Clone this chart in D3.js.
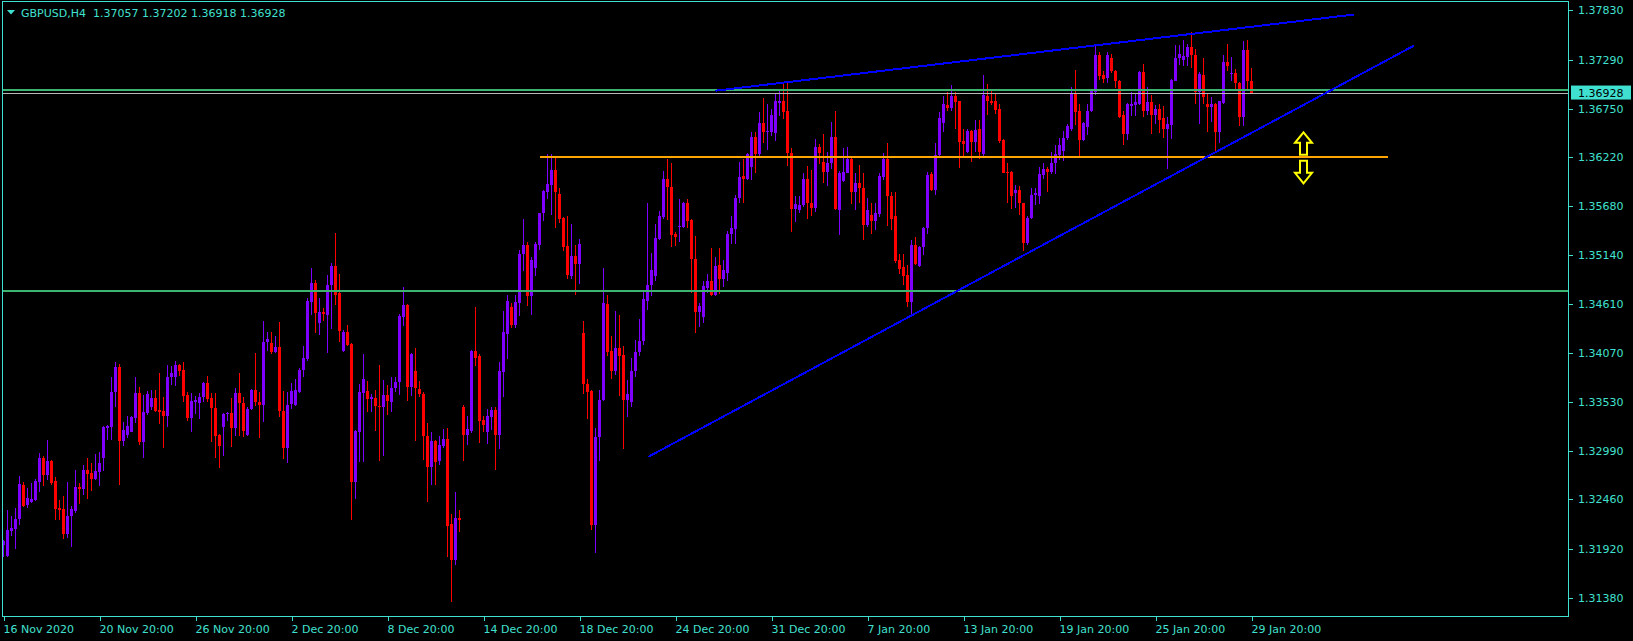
<!DOCTYPE html>
<html><head><meta charset="utf-8">
<script src="https://cdn.jsdelivr.net/npm/d3@7"></script>
<style>
html,body{margin:0;padding:0;background:#000;overflow:hidden}
svg{display:block}
text{font-family:"DejaVu Sans",sans-serif;font-size:11px}
</style></head><body>
<svg id="chart" width="1633" height="641"></svg>
<script>
// ---------- data ----------
const symbol = "GBPUSD,H4";
const lastQuote = ["1.37057", "1.37202", "1.36918", "1.36928"]; // O H L C of last bar
const bidPrice = 1.36928;

const open = [
1.3196,1.3184,1.3211,1.3214,1.3224,1.3262,1.3240,1.3243,1.3245,1.3265,
1.3291,1.3273,1.3288,1.3266,1.3237,1.3235,1.3208,1.3228,1.3233,1.3260,
1.3257,1.3278,1.3275,1.3268,1.3276,1.3292,1.3324,1.3326,1.3364,1.3391,
1.3310,1.3317,1.3320,1.3335,1.3363,1.3309,1.3341,1.3348,1.3357,1.3344,
1.3343,1.3338,1.3380,1.3380,1.3394,1.3388,1.3361,1.3335,1.3353,1.3352,
1.3358,1.3374,1.3357,1.3346,1.3317,1.3326,1.3340,1.3341,1.3325,1.3363,
1.3352,1.3317,1.3345,1.3366,1.3353,1.3350,1.3419,1.3418,1.3408,1.3413,
1.3343,1.3303,1.3351,1.3350,1.3364,1.3388,1.3400,1.3463,1.3484,1.3440,
1.3452,1.3448,1.3481,1.3502,1.3473,1.3409,1.3430,1.3417,1.3265,1.3320,
1.3363,1.3365,1.3356,1.3357,1.3349,1.3348,1.3361,1.3353,1.3368,1.3375,
1.3446,1.3460,1.3370,1.3387,1.3367,1.3362,1.3316,1.3282,1.3310,1.3288,
1.3305,1.3312,1.3219,1.3179,1.3226,1.3348,1.3317,1.3321,1.3409,1.3403,
1.3333,1.3320,1.3337,1.3344,1.3317,1.3386,1.3428,1.3457,1.3438,1.3462,
1.3516,1.3525,1.3469,1.3500,1.3525,1.3560,1.3584,1.3591,1.3608,1.3581,
1.3555,1.3524,1.3491,1.3513,1.3505,1.3429,1.3373,1.3365,1.3218,1.3315,
1.3355,1.3461,1.3409,1.3387,1.3412,1.3405,1.3355,1.3353,1.3387,1.3408,
1.3420,1.3464,1.3481,1.3491,1.3532,1.3556,1.3598,1.3589,1.3537,1.3545,
1.3545,1.3572,1.3553,1.3510,1.3452,1.3446,1.3478,1.3486,1.3471,1.3503,
1.3488,1.3495,1.3537,1.3543,1.3577,1.3601,1.3598,1.3611,1.3644,1.3625,
1.3659,1.3650,1.3649,1.3648,1.3681,1.3683,1.3672,1.3626,1.3565,1.3564,
1.3569,1.3598,1.3572,1.3566,1.3633,1.3617,1.3606,1.3615,1.3644,1.3564,
1.3596,1.3605,1.3620,1.3584,1.3594,1.3588,1.3547,1.3558,1.3552,1.3559,
1.3600,1.3620,1.3579,1.3557,1.3509,1.3501,1.3492,1.3463,1.3525,1.3502,
1.3523,1.3544,1.3603,1.3586,1.3624,1.3659,1.3679,1.3676,1.3689,1.3683,
1.3640,1.3627,1.3651,1.3639,1.3653,1.3625,1.3689,1.3683,1.3683,1.3675,
1.3641,1.3606,1.3606,1.3582,1.3586,1.3571,1.3528,1.3555,1.3580,1.3579,
1.3602,1.3609,1.3606,1.3615,1.3624,1.3629,1.3643,1.3653,1.3691,1.3673,
1.3641,1.3655,1.3672,1.3693,1.3734,1.3712,1.3709,1.3731,1.3717,1.3706,
1.3668,1.3647,1.3678,1.3679,1.3680,1.3715,1.3672,1.3682,1.3668,1.3675,
1.3665,1.3653,1.3657,1.3706,1.3731,1.3728,1.3732,1.3743,1.3734,1.3693,
1.3712,1.3680,1.3677,1.3680,1.3650,1.3681,1.3726,1.3713,1.3714,1.3703,
1.3666,1.3739,1.37057];

const high = [
1.3202,1.3234,1.3228,1.3237,1.3272,1.3265,1.3259,1.3264,1.3269,1.3297,
1.3294,1.3311,1.3289,1.3271,1.3245,1.3250,1.3265,1.3239,1.3278,1.3264,
1.3284,1.3292,1.3286,1.3296,1.3298,1.3327,1.3328,1.3381,1.3397,1.3395,
1.3331,1.3338,1.3338,1.3381,1.3369,1.3361,1.3365,1.3366,1.3366,1.3385,
1.3359,1.3394,1.3393,1.3398,1.3395,1.3397,1.3364,1.3363,1.3360,1.3363,
1.3375,1.3382,1.3363,1.3363,1.3318,1.3341,1.3342,1.3357,1.3368,1.3385,
1.3359,1.3347,1.3367,1.3407,1.3364,1.3442,1.3430,1.3430,1.3426,1.3441,
1.3365,1.3364,1.3374,1.3378,1.3390,1.3414,1.3467,1.3500,1.3487,1.3467,
1.3456,1.3493,1.3506,1.3539,1.3494,1.3432,1.3438,1.3418,1.3322,1.3373,
1.3406,1.3376,1.3362,1.3366,1.3394,1.3377,1.3372,1.3380,1.3381,1.3450,
1.3479,1.3461,1.3407,1.3412,1.3376,1.3364,1.3330,1.3320,1.3311,1.3316,
1.3323,1.3324,1.3230,1.3254,1.3234,1.3350,1.3338,1.3410,1.3457,1.3406,
1.3338,1.3345,1.3348,1.3348,1.3397,1.3453,1.3470,1.3462,1.3471,1.3520,
1.3554,1.3529,1.3512,1.3529,1.3561,1.3586,1.3625,1.3625,1.3623,1.3588,
1.3556,1.3557,1.3548,1.3525,1.3532,1.3442,1.3378,1.3366,1.3324,1.3366,
1.3500,1.3470,1.3425,1.3453,1.3449,1.3414,1.3377,1.3401,1.3421,1.3444,
1.3476,1.3571,1.3517,1.3549,1.3563,1.3607,1.3620,1.3615,1.3540,1.3576,
1.3573,1.3576,1.3554,1.3535,1.3462,1.3486,1.3494,1.3522,1.3512,1.3522,
1.3509,1.3541,1.3557,1.3580,1.3616,1.3620,1.3626,1.3649,1.3650,1.3671,
1.3687,1.3680,1.3675,1.3692,1.3697,1.3703,1.3705,1.3632,1.3579,1.3579,
1.3604,1.3612,1.3608,1.3642,1.3636,1.3647,1.3627,1.3661,1.3672,1.3607,
1.3632,1.3633,1.3623,1.3604,1.3613,1.3604,1.3577,1.3572,1.3571,1.3604,
1.3626,1.3637,1.3584,1.3584,1.3516,1.3515,1.3503,1.3531,1.3534,1.3524,
1.3545,1.3606,1.3606,1.3637,1.3671,1.3689,1.3693,1.3701,1.3693,1.3684,
1.3653,1.3653,1.3652,1.3663,1.3663,1.3712,1.3702,1.3696,1.3692,1.3680,
1.3642,1.3615,1.3607,1.3591,1.3590,1.3572,1.3557,1.3588,1.3588,1.3611,
1.3615,1.3611,1.3627,1.3635,1.3643,1.3651,1.3658,1.3699,1.3718,1.3680,
1.3661,1.3680,1.3695,1.3746,1.3737,1.3717,1.3737,1.3735,1.3718,1.3707,
1.3672,1.3681,1.3693,1.3691,1.3716,1.3724,1.3699,1.3690,1.3679,1.3680,
1.3678,1.3666,1.3708,1.3745,1.3745,1.3751,1.3746,1.3759,1.3741,1.3715,
1.3731,1.3692,1.3688,1.3681,1.3684,1.3734,1.3746,1.3732,1.3719,1.3704,
1.3749,1.3751,1.37202];

const low = [
1.3183,1.3183,1.3206,1.3192,1.3218,1.3238,1.3237,1.3242,1.3244,1.3254,
1.3261,1.3267,1.3262,1.3223,1.3223,1.3203,1.3204,1.3194,1.3231,1.3241,
1.3251,1.3247,1.3255,1.3267,1.3261,1.3277,1.3311,1.3311,1.3348,1.3262,
1.3305,1.3314,1.3320,1.3330,1.3306,1.3292,1.3339,1.3344,1.3342,1.3329,
1.3303,1.3326,1.3372,1.3371,1.3382,1.3353,1.3332,1.3320,1.3340,1.3334,
1.3353,1.3353,1.3309,1.3292,1.3281,1.3294,1.3332,1.3304,1.3316,1.3316,
1.3315,1.3316,1.3344,1.3349,1.3314,1.3331,1.3409,1.3406,1.3407,1.3337,
1.3290,1.3286,1.3345,1.3349,1.3363,1.3381,1.3398,1.3448,1.3429,1.3427,
1.3442,1.3407,1.3433,1.3460,1.3419,1.3408,1.3415,1.3223,1.3246,1.3287,
1.3287,1.3342,1.3342,1.3321,1.3288,1.3294,1.3339,1.3342,1.3364,1.3361,
1.3437,1.3354,1.3360,1.3310,1.3358,1.3289,1.3243,1.3262,1.3262,1.3284,
1.3303,1.3183,1.3133,1.3174,1.3210,1.3288,1.3306,1.3319,1.3392,1.3308,
1.3320,1.3307,1.3322,1.3278,1.3301,1.3358,1.3400,1.3434,1.3434,1.3447,
1.3497,1.3458,1.3449,1.3491,1.3520,1.3552,1.3576,1.3558,1.3544,1.3550,
1.3519,1.3488,1.3488,1.3470,1.3483,1.3362,1.3334,1.3213,1.3187,1.3288,
1.3354,1.3403,1.3378,1.3383,1.3360,1.3301,1.3337,1.3348,1.3380,1.3404,
1.3416,1.3454,1.3469,1.3486,1.3531,1.3554,1.3553,1.3523,1.3524,1.3529,
1.3544,1.3544,1.3473,1.3429,1.3435,1.3440,1.3473,1.3469,1.3469,1.3472,
1.3479,1.3486,1.3527,1.3526,1.3572,1.3571,1.3597,1.3597,1.3604,1.3623,
1.3637,1.3630,1.3645,1.3640,1.3667,1.3664,1.3612,1.3540,1.3551,1.3561,
1.3567,1.3554,1.3557,1.3562,1.3614,1.3594,1.3590,1.3609,1.3564,1.3536,
1.3595,1.3604,1.3570,1.3564,1.3571,1.3531,1.3545,1.3537,1.3542,1.3556,
1.3597,1.3546,1.3542,1.3506,1.3494,1.3481,1.3457,1.3450,1.3503,1.3501,
1.3514,1.3537,1.3585,1.3580,1.3623,1.3649,1.3673,1.3673,1.3653,1.3610,
1.3623,1.3626,1.3616,1.3628,1.3620,1.3623,1.3668,1.3679,1.3669,1.3637,
1.3604,1.3571,1.3565,1.3566,1.3558,1.3519,1.3525,1.3554,1.3569,1.3570,
1.3598,1.3584,1.3603,1.3603,1.3619,1.3618,1.3641,1.3651,1.3657,1.3623,
1.3640,1.3646,1.3671,1.3690,1.3707,1.3703,1.3703,1.3714,1.3698,1.3665,
1.3635,1.3641,1.3667,1.3667,1.3679,1.3666,1.3668,1.3647,1.3658,1.3648,
1.3643,1.3609,1.3642,1.3705,1.3723,1.3722,1.3722,1.3720,1.3680,1.3658,
1.3680,1.3649,1.3660,1.3629,1.3637,1.3680,1.3717,1.3706,1.3695,1.3656,
1.3656,1.3694,1.36918];

const close = [
1.3200,1.3212,1.3215,1.3225,1.3263,1.3239,1.3248,1.3246,1.3266,1.3291,
1.3273,1.3288,1.3264,1.3235,1.3234,1.3208,1.3228,1.3235,1.3260,1.3257,
1.3278,1.3274,1.3268,1.3277,1.3286,1.3326,1.3327,1.3364,1.3391,1.3310,
1.3322,1.3327,1.3336,1.3363,1.3309,1.3342,1.3362,1.3357,1.3343,1.3342,
1.3338,1.3381,1.3385,1.3394,1.3387,1.3360,1.3335,1.3354,1.3355,1.3359,
1.3374,1.3356,1.3346,1.3316,1.3305,1.3340,1.3341,1.3325,1.3363,1.3352,
1.3321,1.3345,1.3366,1.3353,1.3350,1.3419,1.3422,1.3408,1.3413,1.3343,
1.3303,1.3350,1.3365,1.3366,1.3388,1.3401,1.3464,1.3484,1.3451,1.3452,
1.3450,1.3481,1.3502,1.3471,1.3431,1.3430,1.3416,1.3265,1.3321,1.3364,
1.3378,1.3356,1.3358,1.3349,1.3348,1.3361,1.3354,1.3368,1.3375,1.3447,
1.3460,1.3370,1.3406,1.3368,1.3362,1.3316,1.3282,1.3310,1.3287,1.3306,
1.3312,1.3217,1.3180,1.3226,1.3223,1.3317,1.3323,1.3409,1.3401,1.3332,
1.3328,1.3338,1.3344,1.3317,1.3387,1.3430,1.3464,1.3438,1.3463,1.3516,
1.3525,1.3469,1.3509,1.3526,1.3560,1.3585,1.3592,1.3608,1.3584,1.3554,
1.3523,1.3492,1.3513,1.3505,1.3527,1.3373,1.3364,1.3218,1.3315,1.3355,
1.3462,1.3408,1.3387,1.3412,1.3404,1.3355,1.3362,1.3387,1.3408,1.3420,
1.3466,1.3482,1.3498,1.3533,1.3557,1.3598,1.3589,1.3536,1.3534,1.3546,
1.3572,1.3552,1.3510,1.3452,1.3458,1.3480,1.3486,1.3471,1.3502,1.3488,
1.3498,1.3538,1.3544,1.3577,1.3600,1.3598,1.3625,1.3644,1.3625,1.3659,
1.3650,1.3651,1.3668,1.3683,1.3683,1.3671,1.3626,1.3565,1.3570,1.3569,
1.3598,1.3572,1.3566,1.3633,1.3626,1.3606,1.3615,1.3644,1.3565,1.3604,
1.3606,1.3620,1.3584,1.3594,1.3588,1.3547,1.3564,1.3552,1.3560,1.3601,
1.3620,1.3579,1.3554,1.3508,1.3499,1.3491,1.3463,1.3525,1.3504,1.3523,
1.3544,1.3602,1.3586,1.3624,1.3665,1.3680,1.3676,1.3689,1.3682,1.3639,
1.3636,1.3651,1.3638,1.3652,1.3627,1.3690,1.3684,1.3681,1.3674,1.3640,
1.3605,1.3605,1.3579,1.3586,1.3571,1.3528,1.3555,1.3580,1.3583,1.3603,
1.3609,1.3606,1.3615,1.3625,1.3635,1.3643,1.3656,1.3691,1.3671,1.3641,
1.3659,1.3673,1.3694,1.3734,1.3711,1.3708,1.3734,1.3716,1.3705,1.3666,
1.3647,1.3680,1.3680,1.3682,1.3715,1.3672,1.3682,1.3668,1.3675,1.3663,
1.3653,1.3658,1.3707,1.3731,1.3735,1.3733,1.3743,1.3734,1.3693,1.3713,
1.3688,1.3677,1.3680,1.3650,1.3683,1.3726,1.3722,1.3714,1.3703,1.3666,
1.3739,1.3706,1.36928];

const yTickValues = [1.37830,1.37290,1.36750,1.36220,1.35680,1.35140,1.34610,1.34070,1.33530,1.32990,1.32460,1.31920,1.31380];
const xTickBars = [0,24,48,72,96,120,144,168,192,216,240,264,288,312];
const xTickLabels = ["16 Nov 2020","20 Nov 20:00","26 Nov 20:00","2 Dec 20:00","8 Dec 20:00","14 Dec 20:00","18 Dec 20:00","24 Dec 20:00","31 Dec 20:00","7 Jan 20:00","13 Jan 20:00","19 Jan 20:00","25 Jan 20:00","29 Jan 20:00"];

// chart objects (bar index, price)
const hLinePrices = [1.36959, 1.34752];          // green horizontal lines
const levelLine = {from: 134, to: 346, price: 1.36222}; // orange level
const trendLines = [
  {b1: 178, p1: 1.36948, b2: 337.7, p2: 1.37785},
  {b1: 161.2, p1: 1.32928, b2: 352.7, p2: 1.37445}
];
const arrowMarks = [{bar: 325, price: 1.36222, dir: "up"}, {bar: 325, price: 1.36222, dir: "down"}];

// ---------- drawing ----------
const FG = "#40E0D0", BULL = "#8000FF", BEAR = "#FF0000";
const L = 2, R = 1568, T = 1, B = 616;
const svg = d3.select("#chart");
svg.append("rect").attr("width",1633).attr("height",641).attr("fill","#000");

const x = d3.scaleLinear().domain([0, 312]).range([3.5, 1251.5]);
const y = d3.scaleLinear().domain([1.311802, 1.379222]).range([B, 2]);

const bars = d3.range(open.length).map(i => ({i, o: open[i], h: high[i], l: low[i], c: close[i]}));

const cg = svg.append("g").attr("shape-rendering","crispEdges");
cg.selectAll("line.wick").data(bars).join("line").attr("class","wick")
  .attr("x1", d => x(d.i)).attr("x2", d => x(d.i))
  .attr("y1", d => y(d.h)).attr("y2", d => y(d.l))
  .attr("stroke", d => d.c >= d.o ? BULL : BEAR).attr("stroke-width", 1);
cg.selectAll("rect.body").data(bars).join("rect").attr("class","body")
  .attr("x", d => x(d.i) - 1.5).attr("width", 3)
  .attr("y", d => y(Math.max(d.o, d.c)))
  .attr("height", d => Math.max(1, y(Math.min(d.o, d.c)) - y(Math.max(d.o, d.c))))
  .attr("fill", d => d.c >= d.o ? BULL : BEAR);

// objects
const og = svg.append("g").attr("shape-rendering","crispEdges");
og.selectAll("line.hl").data(hLinePrices).join("line").attr("class","hl")
  .attr("x1", L).attr("x2", R).attr("y1", d => y(d)).attr("y2", d => y(d))
  .attr("stroke", "#3CB371").attr("stroke-width", 2);
og.append("line").attr("x1", L).attr("x2", R).attr("y1", y(bidPrice) + 0.5).attr("y2", y(bidPrice) + 0.5)
  .attr("stroke", "#B8B8B8").attr("stroke-width", 1);
og.append("line").attr("x1", x(levelLine.from)).attr("x2", x(levelLine.to))
  .attr("y1", y(levelLine.price)).attr("y2", y(levelLine.price))
  .attr("stroke", "#FFA500").attr("stroke-width", 2);
og.selectAll("line.tl").data(trendLines).join("line").attr("class","tl")
  .attr("x1", d => x(d.b1)).attr("y1", d => y(d.p1)).attr("x2", d => x(d.b2)).attr("y2", d => y(d.p2))
  .attr("stroke", "#0000FF").attr("stroke-width", 2);

const upShape = "M0,-24.5 L8.5,-14 L3.5,-14 L3.5,-2 L-3.5,-2 L-3.5,-14 L-8.5,-14 Z";
const downShape = "M0,26.5 L8.5,16 L3.5,16 L3.5,4 L-3.5,4 L-3.5,16 L-8.5,16 Z";
svg.selectAll("path.arrow").data(arrowMarks).join("path").attr("class","arrow")
  .attr("transform", d => `translate(${x(d.bar)},${y(d.price)})`)
  .attr("d", d => d.dir === "up" ? upShape : downShape)
  .attr("fill", "#000").attr("stroke", "#FFFF00").attr("stroke-width", 2)
  .attr("stroke-linejoin", "miter");

// frame
svg.append("rect").attr("x", L + 0.5).attr("y", T + 0.5).attr("width", R - L).attr("height", B - T)
  .attr("fill", "none").attr("stroke", FG).attr("stroke-width", 1).attr("shape-rendering","crispEdges");

// axes
const yAxis = d3.axisRight(y).tickValues(yTickValues).tickSize(4).tickPadding(5.5).tickFormat(d3.format(".5f"));
const ya = svg.append("g").attr("transform", `translate(${R + 0.5},0)`).call(yAxis);
ya.select(".domain").remove();
ya.selectAll("line").attr("stroke", FG).attr("shape-rendering","crispEdges");
ya.selectAll("text").attr("fill", FG).style("font-family", '"DejaVu Sans",sans-serif').style("font-size","11px");

const xAxis = d3.axisBottom(x).tickValues(xTickBars).tickSize(4).tickPadding(5)
  .tickFormat(d => xTickLabels[xTickBars.indexOf(d)]);
const xa = svg.append("g").attr("transform", `translate(0,${B + 0.5})`).call(xAxis);
xa.select(".domain").remove();
xa.selectAll("line").attr("stroke", FG).attr("shape-rendering","crispEdges");
xa.selectAll("text").attr("fill", FG).attr("text-anchor", "start").attr("x", -0.5)
  .style("font-family", '"DejaVu Sans",sans-serif').style("font-size","11px");

// current price tag
const py = y(bidPrice);
svg.append("rect").attr("x", 1571).attr("y", py - 7).attr("width", 60).attr("height", 14).attr("fill", FG);
svg.append("text").attr("x", 1578).attr("y", py).attr("dy", "0.36em").attr("fill", "#000").text(lastQuote[3]);

// title
svg.append("path").attr("d", "M7,10 L15,10 L11,14.5 Z").attr("fill", FG);
svg.append("text").attr("x", 21).attr("y", 16.5).attr("fill", FG).style("white-space","pre")
  .text(symbol + "  " + lastQuote.join(" "));
</script>
</body></html>
